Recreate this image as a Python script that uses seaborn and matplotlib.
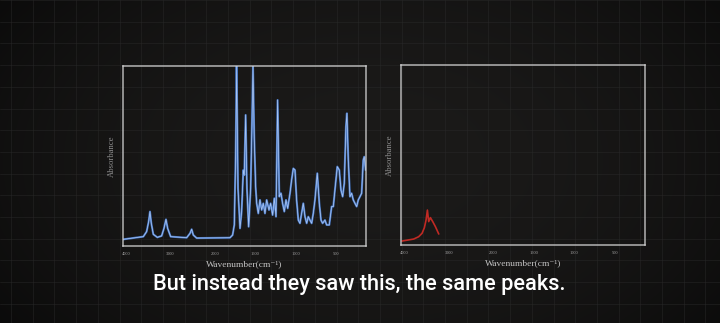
import numpy as np
import pandas as pd
import matplotlib
matplotlib.use("Agg")
import matplotlib.pyplot as plt
import seaborn as sns

# ---------------- data ----------------
blue_wavenumber = [4060, 3611, 3536, 3491, 3461, 3431, 3386, 3296, 3199, 3146,
                   3101, 3064, 2996, 2637, 2562, 2524, 2487, 2412, 1814, 1781,
                   1760, 1743, 1731, 1714, 1689, 1669, 1648, 1636, 1619, 1603,
                   1582, 1557, 1540, 1528, 1512, 1495, 1482, 1462, 1441, 1420,
                   1400, 1379, 1358, 1329, 1309, 1284, 1263, 1242, 1222, 1201,
                   1180, 1160, 1139, 1118, 1097, 1068, 1048, 1027, 1006, 986,
                   965, 944, 924, 903, 882, 861, 841, 820, 799, 779,
                   758, 729, 704, 683, 663, 634, 613, 580, 551, 530,
                   510, 481, 456, 435, 414, 394, 373, 361, 344, 323,
                   303, 282, 261, 240, 220, 199, 178, 158, 145, 129]
blue_absorbance = [0.037, 0.052, 0.080, 0.135, 0.191, 0.126, 0.065, 0.048, 0.056, 0.098,
                   0.148, 0.098, 0.052, 0.046, 0.070, 0.093, 0.061, 0.044, 0.046, 0.061,
                   0.117, 0.506, 1.000, 0.320, 0.098, 0.191, 0.422, 0.394, 0.728, 0.320,
                   0.107, 0.320, 0.691, 1.000, 0.598, 0.330, 0.237, 0.181, 0.256, 0.200,
                   0.237, 0.181, 0.256, 0.200, 0.237, 0.172, 0.265, 0.163, 0.811, 0.274,
                   0.293, 0.237, 0.191, 0.256, 0.209, 0.293, 0.367, 0.431, 0.422, 0.256,
                   0.144, 0.126, 0.181, 0.237, 0.163, 0.126, 0.163, 0.144, 0.126, 0.181,
                   0.256, 0.404, 0.237, 0.144, 0.126, 0.144, 0.117, 0.117, 0.219, 0.219,
                   0.311, 0.441, 0.422, 0.311, 0.274, 0.348, 0.663, 0.737, 0.478, 0.274,
                   0.293, 0.256, 0.237, 0.219, 0.256, 0.274, 0.293, 0.478, 0.496, 0.422]

red_wavenumber = [4046, 3784, 3672, 3596, 3544, 3506, 3476, 3447, 3409, 3357, 3297, 3222]
red_absorbance = [0.022, 0.033, 0.046, 0.065, 0.096, 0.139, 0.194, 0.130, 0.152, 0.130, 0.102, 0.061]

tick_values = [4000, 3000, 2000, 1500, 1000, 500]
tick_labels = ["4000", "3000", "2000", "1500", "1000", "500"]

subtitle = "But instead they saw this, the same peaks."
x_label = "Wavenumber(cm\u207b\u00b9)"
y_label = "Absorbance"

# ---------------- style ----------------
sns.set_theme(style="dark")
BG = "#161616"
plt.rcParams["font.family"] = ["Liberation Serif", "DejaVu Serif"]

fig = plt.figure(figsize=(7.2, 3.23), dpi=100, facecolor=BG)

# background: faint chalkboard grid + vignette
bg = fig.add_axes([0, 0, 1, 1], zorder=-10)
bg.set_xlim(0, 720)
bg.set_ylim(323, 0)
yy, xx = np.mgrid[0:323, 0:720]
r = np.sqrt(((xx - 370) / 400.0) ** 2 + ((yy - 160) / 250.0) ** 2)
shade = np.clip(r, 0, 1.3) ** 2
bg.imshow(shade, extent=(0, 720, 323, 0), cmap=matplotlib.colors.LinearSegmentedColormap.from_list(
    "v", ["#1b1a19", "#070707"]), vmin=0, vmax=1.6, aspect="auto", zorder=0)
bg.set_xticks(np.arange(11, 720, 21.7))
bg.set_yticks(np.arange(0, 323, 21.7))
bg.grid(True, color="#2a2a2a", lw=0.6, alpha=0.55)
bg.tick_params(length=0, labelbottom=False, labelleft=False)
for s in bg.spines.values():
    s.set_visible(False)
bg.set_axisbelow(False)


def fwd(w):
    w = np.asarray(w, dtype=float)
    p = np.where(w >= 2000, 3 + (4000 - w) * 0.0445, 92 + (2000 - w) * 0.0805)
    return 243.0 - p


def inv(q):
    p = 243.0 - np.asarray(q, dtype=float)
    return np.where(p <= 92, 4000 - (p - 3) / 0.0445, 2000 - (p - 92) / 0.0805)


def style_axes(ax):
    ax.set_facecolor((0, 0, 0, 0))
    ax.set_xscale("function", functions=(fwd, inv))
    ax.set_xlim(4067, 124)
    ax.set_ylim(0, 1.0)
    ax.set_xticks(tick_values)
    ax.set_xticklabels(tick_labels)
    ax.set_yticks([])
    ax.grid(False)
    ax.tick_params(axis="x", direction="out", length=2.5, width=0.6, color="#bdbdbd",
                   labelsize=3.2, labelcolor="#a8a8a8", pad=1.5)
    ax.xaxis.set_minor_locator(matplotlib.ticker.NullLocator())
    for s in ax.spines.values():
        s.set_visible(True)
        s.set_color("#cfcfcf")
        s.set_linewidth(1.1)
        s.set_alpha(0.85)
    ax.set_xlabel(x_label, fontsize=6.8, color="#c4c4c4", labelpad=3)
    ax.set_ylabel(y_label, fontsize=6.2, color="#8e8e8e", labelpad=5)


ax1 = fig.add_axes([123 / 720, 77 / 323, 243 / 720, 180 / 323])
ax2 = fig.add_axes([401 / 720, 78 / 323, 244 / 720, 180 / 323])

blue_df = pd.DataFrame({"wavenumber": blue_wavenumber, "absorbance": blue_absorbance})
red_df = pd.DataFrame({"wavenumber": red_wavenumber, "absorbance": red_absorbance})

sns.lineplot(data=blue_df, x="wavenumber", y="absorbance", ax=ax1, color="#4a7fd4",
             lw=1.5, alpha=0.9, estimator=None, sort=False)
sns.lineplot(data=blue_df, x="wavenumber", y="absorbance", ax=ax1, color="#a8c4f2",
             lw=0.55, estimator=None, sort=False)
sns.lineplot(data=red_df, x="wavenumber", y="absorbance", ax=ax2, color="#c02a24",
             lw=1.2, estimator=None, sort=False)

style_axes(ax1)
style_axes(ax2)

fig.text(0.499, 0.118, subtitle, ha="center", va="center", color="white",
         fontsize=15.7, fontweight="medium", family=["Roboto", "DejaVu Sans"])

fig.savefig("out.png", dpi=100, facecolor=BG)
